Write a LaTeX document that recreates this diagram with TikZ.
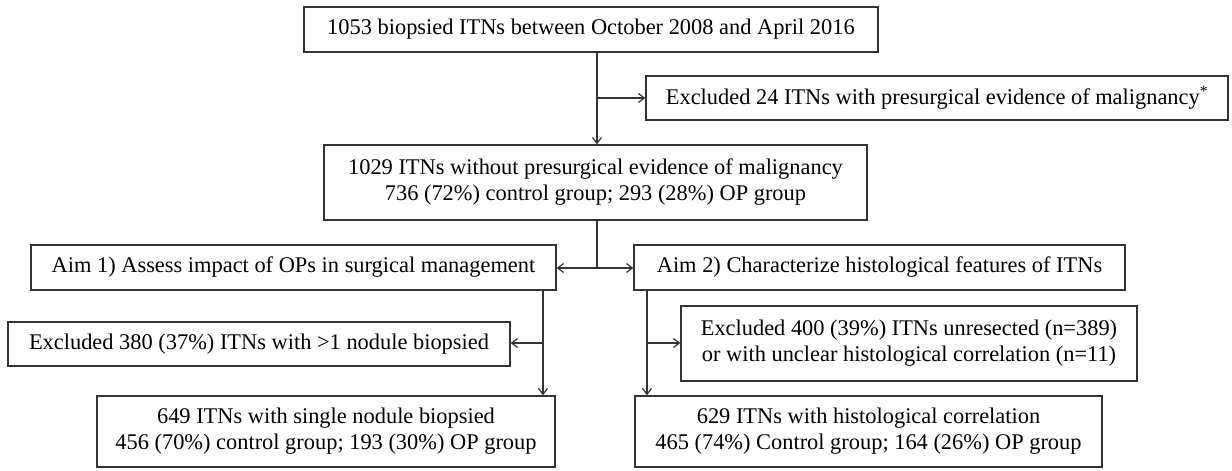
\documentclass[tikz,border=0pt]{standalone}
\usepackage{fontspec}
\setmainfont{Liberation Serif}
\usetikzlibrary{arrows.meta}

\begin{document}
\begin{tikzpicture}[x=1pt, y=-1pt, >={Straight Barb[length=6pt,width=9pt]},
	box/.style={draw=black!80, line width=1.2pt, inner sep=0pt, align=center,
		font=\fontsize{22.4}{26}\selectfont},
	link/.style={draw=black!80, line width=1.2pt}]
	\useasboundingbox (0,0) rectangle (1232,471);
	% boxes
	\node[box, minimum width=574pt, minimum height=45pt] (all) at (591,29.5) {1053 biopsied ITNs between October 2008 and April 2016};
	\node[box, minimum width=582pt, minimum height=44pt] (excl24) at (937,98) {Excluded 24 ITNs with presurgical evidence of malignancy\textsuperscript{*}};
	\node[box, minimum width=543pt, minimum height=75pt] (nomal) at (595.5,182.5) {1029 ITNs without presurgical evidence of malignancy\\736 (72\%) control group; 293 (28\%) OP group};
	\node[box, minimum width=525pt, minimum height=45pt] (aim1) at (293.5,267.5) {Aim 1) Assess impact of OPs in surgical management};
	\node[box, minimum width=491pt, minimum height=45pt] (aim2) at (879.5,267.5) {Aim 2) Characterize histological features of ITNs};
	\node[box, minimum width=502pt, minimum height=44pt] (excl380) at (259,344) {Excluded 380 (37\%) ITNs with >1 nodule biopsied};
	\node[box, minimum width=456pt, minimum height=75pt] (excl400) at (909,343.5) {Excluded 400 (39\%) ITNs unresected (n=389)\\or with unclear histological correlation (n=11)};
	\node[box, minimum width=458pt, minimum height=71pt] (single) at (326,431.5) {649 ITNs with single nodule biopsied\\456 (70\%) control group; 193 (30\%) OP group};
	\node[box, minimum width=467pt, minimum height=71pt] (histo) at (868.5,431.5) {629 ITNs with histological correlation\\465 (74\%) Control group; 164 (26\%) OP group};
	% junctions
	\coordinate (j1) at (597,98);
	\coordinate (j2) at (597,268);
	\coordinate (j3) at (543,343);
	\coordinate (j4) at (647,343);
	% connectors
	\draw[link, ->] (j1 |- all.south) -- (j1 |- nomal.north);
	\draw[link, ->] (j1) -- (excl24.west |- j1);
	\draw[link] (j2 |- nomal.south) -- (j2);
	\draw[link, ->] (j2) -- (aim1.east |- j2);
	\draw[link, ->] (j2) -- (aim2.west |- j2);
	\draw[link, ->] (j3 |- aim1.south) -- (j3 |- single.north);
	\draw[link, ->] (j3) -- (excl380.east |- j3);
	\draw[link, ->] (j4 |- aim2.south) -- (j4 |- histo.north);
	\draw[link, ->] (j4) -- (excl400.west |- j4);
\end{tikzpicture}
\end{document}
